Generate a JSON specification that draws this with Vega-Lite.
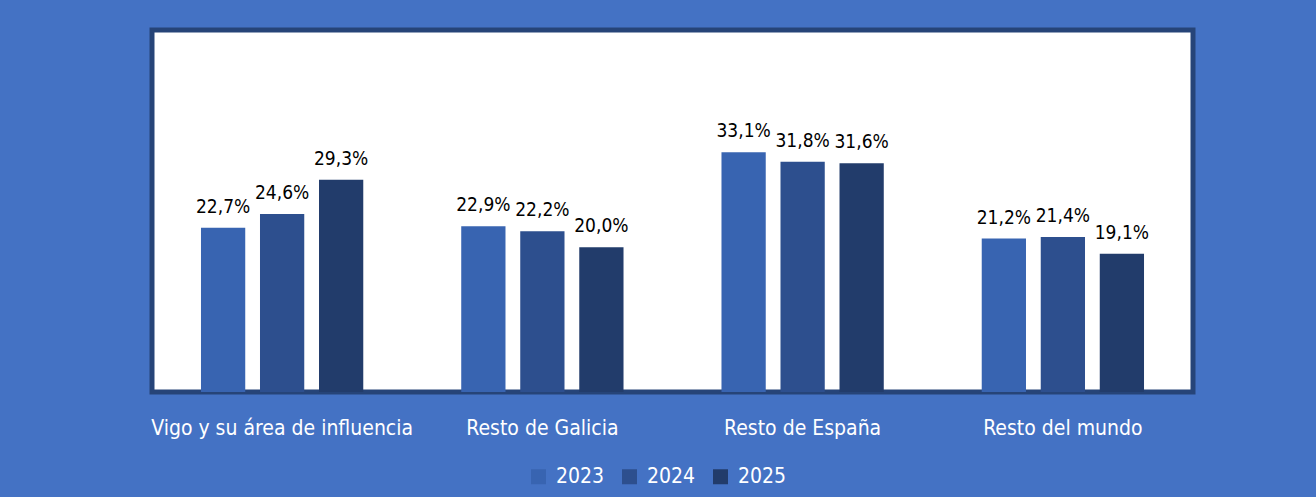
{
  "$schema": "https://vega.github.io/schema/vega-lite/v6.json",
  "width": 1041,
  "height": 362,
  "autosize": {"type": "none"},
  "padding": {"left": 152, "top": 30, "right": 123, "bottom": 105},
  "background": "#4472C4",
  "config": {
    "locale": {"number": {"decimal": ",", "thousands": ".", "grouping": [3], "currency": ["", " €"]}},
    "view": {"fill": "white", "stroke": "#264478", "strokeWidth": 5},
    "font": "DejaVu Sans Condensed"
  },
  "data": {
    "values": [
      {"region": "Vigo y su área de influencia", "year": "2023", "share": 0.227},
      {"region": "Vigo y su área de influencia", "year": "2024", "share": 0.246},
      {"region": "Vigo y su área de influencia", "year": "2025", "share": 0.293},
      {"region": "Resto de Galicia", "year": "2023", "share": 0.229},
      {"region": "Resto de Galicia", "year": "2024", "share": 0.222},
      {"region": "Resto de Galicia", "year": "2025", "share": 0.200},
      {"region": "Resto de España", "year": "2023", "share": 0.331},
      {"region": "Resto de España", "year": "2024", "share": 0.318},
      {"region": "Resto de España", "year": "2025", "share": 0.316},
      {"region": "Resto del mundo", "year": "2023", "share": 0.212},
      {"region": "Resto del mundo", "year": "2024", "share": 0.214},
      {"region": "Resto del mundo", "year": "2025", "share": 0.191}
    ]
  },
  "encoding": {
    "x": {
      "field": "region", "type": "nominal", "sort": null,
      "scale": {"paddingInner": 0, "paddingOuter": 0},
      "axis": {"title": null, "labelAngle": 0, "labelColor": "white", "labelFontSize": 21, "labelLimit": 0, "ticks": false, "domain": false, "labelPadding": 25}
    },
    "xOffset": {"field": "year", "type": "nominal", "scale": {"paddingInner": 0.25, "paddingOuter": 0.83}},
    "y": {"field": "share", "type": "quantitative", "scale": {"domain": [0, 0.5]}, "axis": null}
  },
  "layer": [
    {
      "mark": {"type": "bar"},
      "encoding": {
        "color": {
          "field": "year", "type": "nominal",
          "scale": {"range": ["#3864B1", "#2D4F8E", "#223C6B"]},
          "legend": {
            "title": null, "orient": "none", "direction": "horizontal",
            "legendX": 376, "legendY": 436,
            "symbolType": "square", "symbolSize": 225, "symbolStrokeWidth": 0,
            "labelColor": "white", "labelFontSize": 21, "labelOffset": 7, "columnPadding": 14
          }
        }
      }
    },
    {
      "mark": {"type": "text", "dy": -15, "baseline": "alphabetic", "fontSize": 19, "color": "black"},
      "encoding": {"text": {"field": "share", "type": "quantitative", "format": ".1%"}}
    }
  ]
}
